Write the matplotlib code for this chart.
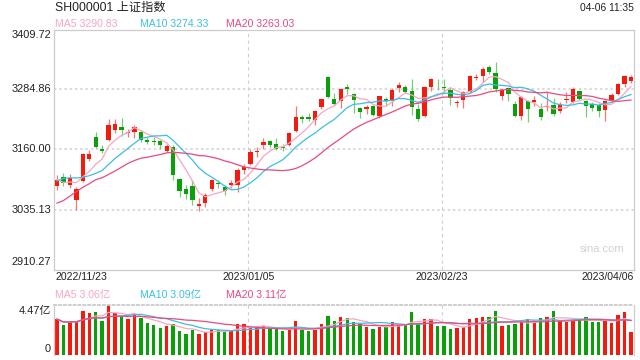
import numpy as np
import pandas as pd
import matplotlib
matplotlib.use("Agg")
import matplotlib.pyplot as plt

plt.rcParams["font.family"] = ["Liberation Sans", "Noto Sans CJK SC", "DejaVu Sans"]

# ── Data ───────────────────────────────────────────────────────────────────────
dates = [
    "2022/11/23", "2022/11/24", "2022/11/25", "2022/11/28", "2022/11/29", "2022/11/30",
    "2022/12/01", "2022/12/02", "2022/12/05", "2022/12/06", "2022/12/07", "2022/12/08",
    "2022/12/09", "2022/12/12", "2022/12/13", "2022/12/14", "2022/12/15", "2022/12/16",
    "2022/12/19", "2022/12/20", "2022/12/21", "2022/12/22", "2022/12/23", "2022/12/26",
    "2022/12/27", "2022/12/28", "2022/12/29", "2022/12/30",
    "2023/01/03", "2023/01/04", "2023/01/05", "2023/01/06", "2023/01/09", "2023/01/10",
    "2023/01/11", "2023/01/12", "2023/01/13", "2023/01/16", "2023/01/17", "2023/01/18",
    "2023/01/19", "2023/01/20", "2023/01/30", "2023/01/31",
    "2023/02/01", "2023/02/02", "2023/02/03", "2023/02/06", "2023/02/07", "2023/02/08",
    "2023/02/09", "2023/02/10", "2023/02/13", "2023/02/14", "2023/02/15", "2023/02/16",
    "2023/02/17", "2023/02/20", "2023/02/21", "2023/02/22", "2023/02/23", "2023/02/24",
    "2023/02/27", "2023/02/28",
    "2023/03/01", "2023/03/02", "2023/03/03", "2023/03/06", "2023/03/07", "2023/03/08",
    "2023/03/09", "2023/03/10", "2023/03/13", "2023/03/14", "2023/03/15", "2023/03/16",
    "2023/03/17", "2023/03/20", "2023/03/21", "2023/03/22", "2023/03/23", "2023/03/24",
    "2023/03/27", "2023/03/28", "2023/03/29", "2023/03/30", "2023/03/31",
    "2023/04/03", "2023/04/04", "2023/04/06",
]

open_ = [
    3085, 3102, 3086, 3055, 3095, 3141, 3186, 3160, 3180, 3200, 3206, 3194, 3196, 3197,
    3180, 3178, 3178, 3157, 3165, 3099, 3078, 3084, 3042, 3048, 3077, 3091, 3082, 3086,
    3087, 3117, 3130, 3154, 3169, 3177, 3171, 3166, 3170, 3198, 3228, 3227, 3222, 3248,
    3310, 3265, 3261, 3291, 3275, 3246, 3245, 3251, 3229, 3266, 3260, 3289, 3291, 3282,
    3245, 3230, 3290, 3293, 3291, 3283, 3256, 3262, 3280, 3308, 3313, 3331, 3320, 3272,
    3287, 3255, 3229, 3261, 3258, 3245, 3248, 3252, 3241, 3263, 3258, 3282, 3261, 3254,
    3252, 3242, 3262, 3276, 3297, 3303,
]
high = [
    3107, 3112, 3109, 3082, 3152, 3158, 3197, 3170, 3224, 3224, 3225, 3203, 3212, 3200,
    3185, 3186, 3180, 3172, 3169, 3101, 3086, 3097, 3060, 3070, 3098, 3097, 3086, 3096,
    3121, 3130, 3160, 3165, 3183, 3179, 3183, 3172, 3197, 3250, 3232, 3236, 3242, 3266,
    3312, 3277, 3287, 3297, 3278, 3249, 3252, 3253, 3272, 3270, 3288, 3300, 3295, 3306,
    3255, 3292, 3308, 3307, 3307, 3291, 3262, 3281, 3314, 3318, 3332, 3335, 3343, 3285,
    3290, 3260, 3272, 3264, 3272, 3256, 3279, 3268, 3258, 3279, 3290, 3284, 3264, 3258,
    3256, 3264, 3277, 3298, 3315, 3315,
]
low = [
    3076, 3085, 3080, 3034, 3093, 3136, 3163, 3152, 3178, 3195, 3189, 3187, 3184, 3176,
    3171, 3170, 3160, 3155, 3097, 3062, 3058, 3044, 3031, 3040, 3074, 3080, 3066, 3080,
    3072, 3110, 3128, 3145, 3160, 3165, 3158, 3156, 3167, 3196, 3215, 3219, 3211, 3244,
    3267, 3253, 3246, 3275, 3235, 3226, 3234, 3230, 3225, 3250, 3251, 3280, 3278, 3231,
    3220, 3228, 3282, 3284, 3277, 3253, 3248, 3246, 3278, 3304, 3301, 3318, 3280, 3263,
    3260, 3228, 3222, 3218, 3250, 3222, 3240, 3230, 3236, 3256, 3256, 3262, 3228, 3240,
    3228, 3219, 3258, 3273, 3291, 3298,
]
close = [
    3096.91, 3089.31, 3101.69, 3078.55, 3149.75, 3151.34, 3165.47, 3156.14, 3211.81,
    3212.53, 3199.62, 3197.35, 3206.95, 3179.04, 3176.33, 3176.53, 3168.65, 3167.86,
    3107.12, 3073.77, 3068.41, 3054.43, 3045.87, 3065.56, 3095.57, 3087.40, 3073.70,
    3089.26, 3116.51, 3123.52, 3155.22, 3157.64, 3176.08, 3169.51, 3161.84, 3163.45,
    3195.31, 3227.59, 3224.41, 3224.24, 3240.28, 3264.81, 3269.32, 3255.67, 3284.92,
    3285.67, 3263.41, 3238.70, 3248.09, 3232.11, 3270.38, 3260.67, 3284.16, 3293.28,
    3280.49, 3249.03, 3224.02, 3290.34, 3306.52, 3291.15, 3287.48, 3267.16, 3258.03,
    3279.61, 3312.35, 3310.65, 3328.39, 3322.03, 3285.10, 3283.25, 3276.09, 3230.08,
    3268.70, 3245.31, 3263.31, 3226.89, 3250.55, 3234.91, 3255.65, 3265.65, 3286.65,
    3265.65, 3251.40, 3245.38, 3240.06, 3261.25, 3272.86, 3296.40, 3312.56, 3311.08,
]
# closes before the visible window (needed for the moving averages)
prior_close = [
    2982.90, 2915.93, 2893.48, 2969.20, 3003.37, 2997.81, 3070.80, 3077.82, 3064.49,
    3048.17, 3036.13, 3087.29, 3083.40, 3134.08, 3119.98, 3115.43, 3097.24, 3085.04,
    3088.94,
]
# volume, 亿
volume = [
    3.17, 2.64, 2.94, 2.94, 3.89, 3.68, 3.80, 2.99, 4.47, 3.68, 3.47, 3.17, 3.59, 3.23,
    2.79, 2.64, 2.40, 2.55, 2.73, 2.10, 1.83, 2.19, 1.83, 2.01, 2.19, 2.19, 2.04, 2.19,
    2.73, 2.73, 2.34, 2.43, 2.55, 2.34, 2.31, 2.10, 2.19, 2.99, 2.19, 2.10, 2.19, 2.73,
    3.44, 2.99, 3.35, 3.26, 2.91, 2.70, 2.46, 2.28, 2.46, 2.46, 2.91, 2.64, 2.64, 3.80,
    2.70, 3.17, 3.14, 2.55, 2.55, 2.28, 2.37, 2.43, 3.17, 3.26, 3.35, 3.35, 3.89, 2.55,
    2.64, 2.73, 2.91, 3.17, 2.85, 3.26, 3.35, 3.89, 2.99, 2.91, 2.99, 3.08, 3.35, 2.91,
    2.91, 2.99, 2.82, 3.53, 3.80, 2.01,
]

price_ticks = [3409.72, 3284.86, 3160.00, 3035.13, 2910.27]
vol_max = 4.47
date_ticks = ["2022/11/23", "2023/01/05", "2023/02/23", "2023/04/06"]
ma_windows = [5, 10, 20]
ma_labels = ["MA5 3290.83", "MA10 3274.33", "MA20 3263.03"]
vol_ma_labels = ["MA5 3.06亿", "MA10 3.09亿", "MA20 3.11亿"]
title = "SH000001 上证指数"
stamp = "04-06 11:35"

# ── Style ──────────────────────────────────────────────────────────────────────
RED, GREEN = "#f31b0e", "#0aa00a"
RED_WICK, GREEN_WICK = "#f27a74", "#78cc78"
MA_COLORS = ["#f8a6c2", "#3bbfe2", "#ea4a7e"]
GRID = "#d9d9d9"
TEXT = "#222222"
W, H = 640, 360


def px(x, y):
    """pixel coords (top-left origin) -> figure fraction"""
    return x / W, 1 - y / H


fig = plt.figure(figsize=(6.4, 3.6), dpi=100)
ax = fig.add_axes([54 / W, 1 - 269.5 / H, 580 / W, 240 / H])
axv = fig.add_axes([54 / W, 1 - 354.5 / H, 580 / W, 50 / H])

n = len(close)
x = np.arange(n)
o = np.array(open_)
c = np.array(close)
up = c >= o
body_col = np.where(up, RED, GREEN)
wick_col = np.where(up, RED_WICK, GREEN_WICK)

# ── Price panel ────────────────────────────────────────────────────────────────
ax.set_xlim(-0.47, n - 0.53)
ax.set_ylim(price_ticks[-1], price_ticks[0])
for t in price_ticks[1:-1]:
    ax.axhline(t, color=GRID, lw=1.4, ls=(0, (1.2, 1.5)), zorder=1)

tick_idx = [dates.index(d) for d in date_ticks]
for i in tick_idx[1:-1]:
    ax.axvline(i - 0.35, color="#cfcfcf", lw=0.8, ls=(0, (3, 3)), zorder=1)
    axv.axvline(i - 0.35, color="#cfcfcf", lw=0.8, ls=(0, (3, 3)), zorder=1)

ax.vlines(x, low, high, colors=wick_col, lw=0.9, zorder=2)
ax.bar(x, np.maximum(np.abs(c - o), 1.3), bottom=np.minimum(o, c), width=0.66,
       color=body_col, linewidth=0, zorder=3)

full_close = pd.Series(prior_close + close)
for win, col in zip(ma_windows, MA_COLORS):
    ma = full_close.rolling(win).mean().to_numpy()[len(prior_close):]
    ax.plot(x, ma, color=col, lw=0.9, zorder=4)

ax.set_xticks([])
ax.set_yticks([])
for s in ax.spines.values():
    s.set_color("#cccccc")
    s.set_linewidth(0.9)

# y labels of price panel
ax.text(-0.005, 1.0, f"{price_ticks[0]:.2f}", transform=ax.transAxes, ha="right", va="top",
        fontsize=7.9, color=TEXT)
for t in price_ticks[1:-1]:
    ax.text(-0.005, t, f"{t:.2f}", transform=ax.get_yaxis_transform(), ha="right",
            va="center", fontsize=7.9, color=TEXT)
ax.text(-0.005, 0.012, f"{price_ticks[-1]:.2f}", transform=ax.transAxes, ha="right",
        va="bottom", fontsize=7.9, color=TEXT)

ax.text(0.983, 0.085, "sina.com", transform=ax.transAxes, ha="right", va="center",
        fontsize=8, color="#d2d2d2")

# ── Volume panel ───────────────────────────────────────────────────────────────
axv.set_xlim(-0.47, n - 0.53)
axv.set_ylim(0, vol_max)
axv.bar(x, volume, width=0.52, color=body_col, linewidth=0, zorder=2)
vol_s = pd.Series(volume)
for win, col in zip(ma_windows, MA_COLORS):
    axv.plot(x, vol_s.rolling(win, min_periods=1).mean(), color=col, lw=0.9, zorder=3)

axv.set_xticks([])
axv.set_yticks([])
for name, s in axv.spines.items():
    s.set_color("#cccccc")
    s.set_linewidth(0.9)
axv.spines["top"].set_linestyle((0, (1.2, 1.5)))
axv.spines["top"].set_linewidth(1.3)
axv.spines["bottom"].set_visible(False)

axv.text(-0.005, 0.98, f"{vol_max:.2f}亿", transform=axv.transAxes, ha="right", va="top",
         fontsize=7.9, color=TEXT)
axv.text(-0.005, 0.02, "0", transform=axv.transAxes, ha="right", va="bottom",
         fontsize=7.9, color=TEXT)

# ── Header texts ───────────────────────────────────────────────────────────────
fig.text(*px(55, 8), title, ha="left", va="center", fontsize=8.8, color=TEXT)
fig.text(*px(634, 8), stamp, ha="right", va="center", fontsize=7.4, color=TEXT)
for lx, lab, col in zip([55, 140, 225.5], ma_labels, MA_COLORS):
    fig.text(*px(lx, 24), lab, ha="left", va="center", fontsize=7.6, color=col)
for lx, lab, col in zip([55, 140, 225.5], vol_ma_labels, MA_COLORS):
    fig.text(*px(lx, 295), lab, ha="left", va="center", fontsize=7.6, color=col)

# date labels between the panels
for k, i in enumerate(tick_idx):
    xf = (54 + (i - 0.35 + 0.47) * 580 / (n - 0.06)) / W
    ha = "center"
    if k == 0:
        xf, ha = 55 / W, "left"
    elif k == len(tick_idx) - 1:
        xf, ha = 634 / W, "right"
    fig.text(xf, 1 - 277.5 / H, dates[i], ha=ha, va="center", fontsize=7.6, color=TEXT)

fig.savefig("out.png", dpi=100)
